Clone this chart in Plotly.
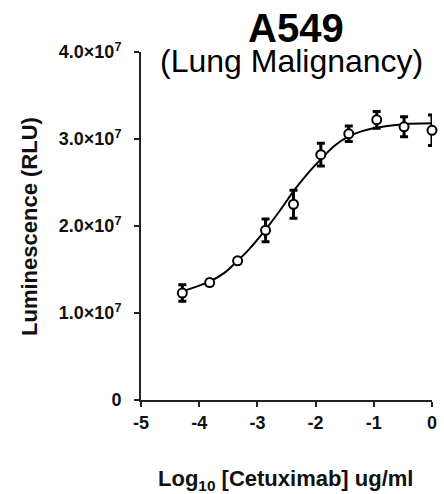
import plotly.graph_objects as go

# ---- data ----
log_conc = [-4.29, -3.82, -3.34, -2.86, -2.38, -1.91, -1.43, -0.95, -0.48, 0.0]
rlu_mean = [12.3e6, 13.5e6, 16.0e6, 19.5e6, 22.5e6, 28.2e6, 30.6e6, 32.2e6, 31.4e6, 31.0e6]
rlu_err = [0.95e6, 0.3e6, 0.3e6, 1.3e6, 1.6e6, 1.3e6, 0.9e6, 0.95e6, 1.15e6, 1.75e6]

# fitted curve, sampled along the drawn line
fit_x = [-4.29, -4.06, -3.82, -3.55, -3.34, -3.16, -2.87, -2.60, -2.37, -2.14,
         -1.92, -1.68, -1.43, -1.20, -0.96, -0.48, 0.0]
fit_y = [12.5e6, 13.0e6, 13.6e6, 14.7e6, 16.0e6, 17.2e6, 19.5e6, 21.9e6, 24.1e6, 26.0e6,
         27.6e6, 29.2e6, 30.3e6, 30.9e6, 31.3e6, 31.7e6, 31.8e6]

x_ticks = [-5, -4, -3, -2, -1, 0]
x_ticktext = ["-5", "-4", "-3", "-2", "-1", "0"]
y_ticks = [0, 1e7, 2e7, 3e7, 4e7]
y_ticktext = ["0", "1.0×10<sup>7</sup>", "2.0×10<sup>7</sup>",
              "3.0×10<sup>7</sup>", "4.0×10<sup>7</sup>"]

title_text = "A549"
subtitle_text = "(Lung Malignancy)"
x_title = "Log<sub>10</sub> [Cetuximab] ug/ml"
y_title = "Luminescence (RLU)"

FONT = "Liberation Sans, Arial, Helvetica, sans-serif"
INK = "#111111"

fig = go.Figure()
fig.add_trace(go.Scatter(
    x=fit_x, y=fit_y, mode="lines",
    line=dict(color="black", width=2, shape="spline", smoothing=0.8),
    hoverinfo="skip", showlegend=False, cliponaxis=False,
))
fig.add_trace(go.Scatter(
    x=log_conc, y=rlu_mean, mode="markers",
    marker=dict(symbol="circle", size=9, color="white",
                line=dict(color="black", width=2)),
    error_y=dict(type="data", array=rlu_err, visible=True,
                 color="black", thickness=3, width=4),
    showlegend=False, cliponaxis=False,
))

axis_common = dict(
    showline=True, linecolor="#222222", linewidth=2,
    ticks="outside", ticklen=5, tickwidth=2, tickcolor="#222222",
    showgrid=False, zeroline=False,
)
fig.update_xaxes(range=[-5, 0], tickvals=x_ticks, ticktext=x_ticktext,
                 tickfont=dict(family=FONT, size=18, color=INK, weight="bold"),
                 ticklabelstandoff=0, **axis_common)
fig.update_yaxes(range=[0, 4e7], tickvals=y_ticks, ticktext=y_ticktext,
                 tickfont=dict(family=FONT, size=18, color=INK, weight="bold"),
                 ticklabelstandoff=9, **axis_common)

annotations = [
    dict(text=title_text, x=0.532, y=1.07, xref="paper", yref="paper",
         xanchor="center", yanchor="middle", showarrow=False,
         font=dict(family=FONT, size=40, color="black", weight="bold")),
    dict(text=subtitle_text, x=0.518, y=0.975, xref="paper", yref="paper",
         xanchor="center", yanchor="middle", showarrow=False,
         font=dict(family=FONT, size=32, color="black")),
    dict(text=x_title, x=0.497, y=-0.23, xref="paper", yref="paper",
         xanchor="center", yanchor="middle", showarrow=False,
         font=dict(family=FONT, size=22, color=INK, weight="bold")),
    dict(text=y_title, x=-0.385, y=0.50, xref="paper", yref="paper",
         xanchor="center", yanchor="middle", showarrow=False, textangle=-90,
         font=dict(family=FONT, size=22, color=INK, weight="bold")),
]

fig.update_layout(
    width=444, height=494,
    margin=dict(l=141, r=7, t=52, b=94),
    paper_bgcolor="white", plot_bgcolor="white",
    annotations=annotations,
)

fig.write_html("out.html")
